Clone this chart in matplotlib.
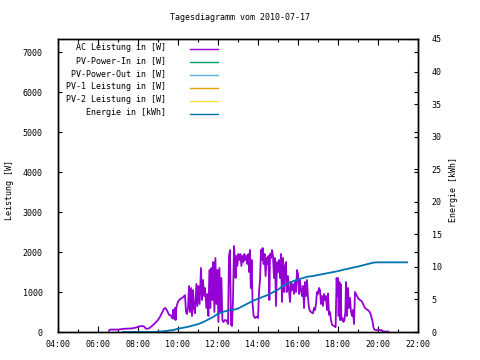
import matplotlib
matplotlib.use("Agg")
import matplotlib.pyplot as plt
from matplotlib.lines import Line2D
from matplotlib.ticker import MultipleLocator, FixedLocator

# ---------------- data ----------------
title = "Tagesdiagramm vom 2010-07-17"
series_labels = ["AC Leistung in [W]", "PV-Power-In in [W]", "PV-Power-Out in [W]",
                 "PV-1 Leistung in [W]", "PV-2 Leistung in [W]", "Energie in [kWh]"]
series_colors = ["#9400d3", "#009e73", "#56b4e9", "#e69f00", "#f0e442", "#0072b2"]

x_tick_hours = [4, 6, 8, 10, 12, 14, 16, 18, 20, 22]
x_tick_labels = ["04:00", "06:00", "08:00", "10:00", "12:00", "14:00", "16:00", "18:00", "20:00", "22:00"]
y_ticks = [0, 1000, 2000, 3000, 4000, 5000, 6000, 7000]
y2_ticks = [0, 5, 10, 15, 20, 25, 30, 35, 40, 45]

ac_hours = [6.55, 6.6, 7.0, 7.3, 7.7, 7.9, 8.0, 8.15, 8.3, 8.4, 8.55, 8.7, 8.85, 9.0, 9.1, 9.2, 9.3,
            9.37, 9.45, 9.55, 9.65, 9.72, 9.77, 9.8, 9.85, 9.88, 9.92, 10.0, 10.1, 10.2, 10.27, 10.35,
            10.4, 10.45, 10.5, 10.55, 10.6, 10.65, 10.7, 10.75, 10.8, 10.85, 10.92, 10.97, 11.02, 11.08,
            11.15, 11.2, 11.25, 11.3, 11.35, 11.42, 11.47, 11.52, 11.57, 11.62, 11.67, 11.72, 11.77,
            11.82, 11.87, 11.92, 11.97, 12.02, 12.07, 12.12, 12.17, 12.22, 12.27, 12.35, 12.45, 12.5,
            12.55, 12.6, 12.65, 12.7, 12.75, 12.8, 12.83, 12.88, 12.92, 12.97, 13.02, 13.08, 13.12,
            13.17, 13.22, 13.27, 13.32, 13.37, 13.42, 13.47, 13.52, 13.56, 13.6, 13.64, 13.68, 13.73,
            13.78, 13.85, 13.92, 14.0, 14.05, 14.1, 14.15, 14.2, 14.23, 14.28, 14.33, 14.38, 14.43,
            14.48, 14.52, 14.57, 14.6, 14.65, 14.7, 14.75, 14.8, 14.85, 14.9, 14.95, 15.0, 15.05, 15.1,
            15.15, 15.2, 15.25, 15.3, 15.35, 15.4, 15.43, 15.5, 15.55, 15.6, 15.65, 15.7, 15.75, 15.8,
            15.85, 15.9, 15.95, 16.0, 16.05, 16.1, 16.15, 16.2, 16.25, 16.3, 16.35, 16.4, 16.45, 16.5,
            16.55, 16.6, 16.7, 16.75, 16.8, 16.85, 16.9, 16.95, 17.0, 17.05, 17.1, 17.15, 17.2, 17.25,
            17.3, 17.35, 17.4, 17.45, 17.5, 17.55, 17.6, 17.65, 17.7, 17.8, 17.88, 17.93, 17.97, 18.0,
            18.03, 18.07, 18.1, 18.13, 18.17, 18.22, 18.27, 18.32, 18.37, 18.4, 18.45, 18.5, 18.55,
            18.6, 18.65, 18.7, 18.75, 18.8, 18.85, 18.9, 18.95, 19.0, 19.05, 19.1, 19.2, 19.27, 19.35,
            19.45, 19.52, 19.58, 19.63, 19.68, 19.72, 19.77, 19.82, 19.9, 20.1, 20.2, 20.27, 20.52]
ac_watts = [30, 60, 60, 80, 90, 110, 130, 150, 140, 80, 90, 150, 220, 300, 380, 480, 580,
            600, 540, 430, 410, 340, 560, 330, 600, 300, 620, 760, 820, 850, 880, 920,
            500, 450, 600, 1150, 500, 1100, 400, 1050, 600, 470, 1200, 650, 1150, 700,
            1600, 800, 1300, 900, 1100, 600, 950, 400, 1550, 600, 1600, 800, 1750,
            500, 1850, 700, 1550, 250, 1600, 500, 1350, 300, 250, 300, 280, 200,
            1900, 2050, 180, 150, 800, 2150, 1950, 1350, 1900, 1650, 1950, 1800, 1950,
            1650, 1900, 1750, 1950, 1800, 1900, 1700, 1950, 1500, 2050, 1100, 1800, 700,
            400, 350, 380, 350, 1000, 1300, 2050, 1800, 2100, 1700, 1950, 1400, 1850,
            1700, 1900, 800, 1950, 1850, 2050, 1900, 1350, 1850, 650, 1750, 1500, 1800, 1350,
            1950, 750, 1850, 1000, 1650, 1750, 1000, 1400, 1050, 750, 1250, 1050, 1200, 950,
            1250, 1000, 1550, 1450, 950, 1300, 1050, 900, 1150, 600, 1250, 900, 1300, 850,
            600, 520, 480, 470, 600, 550, 700, 1000, 950, 1100, 1050, 700, 900, 650,
            950, 800, 900, 550, 960, 430, 500, 300, 180, 150, 120, 1350, 900, 1350,
            400, 1250, 300, 1200, 300, 350, 250, 300, 500, 1250, 400, 1100, 600,
            850, 500, 400, 550, 200, 1000, 950, 900, 850, 820, 800, 760, 680, 600,
            560, 540, 500, 450, 350, 280, 120, 60, 50, 50, 40, 10, 10]

en_hours = [7.25, 8.75, 9.0, 9.25, 9.5, 9.75, 10.0, 10.25, 10.5, 10.75, 11.0, 11.25, 11.5, 11.75,
            12.0, 12.25, 12.5, 12.75, 13.0, 13.25, 13.5, 13.75, 14.0, 14.25, 14.5, 14.75, 15.0,
            15.25, 15.5, 15.75, 16.0, 16.25, 16.5, 16.75, 17.0, 17.25, 17.5, 17.75, 18.0, 18.25,
            18.5, 18.75, 19.0, 19.25, 19.5, 19.75, 20.0, 21.45]
en_kwh = [0.0, 0.0, 0.05, 0.1, 0.2, 0.3, 0.5, 0.65, 0.8, 1.0, 1.2, 1.5, 1.9, 2.3,
          2.8, 3.1, 3.3, 3.4, 3.6, 4.0, 4.4, 4.8, 5.1, 5.4, 5.7, 6.1, 6.5,
          7.1, 7.5, 7.8, 8.05, 8.3, 8.5, 8.6, 8.75, 8.9, 9.05, 9.2, 9.35, 9.55,
          9.7, 9.9, 10.05, 10.25, 10.45, 10.65, 10.7, 10.7]

# ---------------- figure ----------------
FONT = "DejaVu Sans Mono"
FS = 6
plt.rcParams["font.family"] = [FONT]

fig = plt.figure(figsize=(4.8, 3.6), dpi=100)
ax = fig.add_axes([58 / 480, 28 / 360, 360 / 480, 293 / 360])
ax2 = ax.twinx()

ax.plot(ac_hours, ac_watts, color=series_colors[0], lw=1.3)
for c in series_colors[1:5]:
    ax.plot([], [], color=c, lw=1.3)
ax2.plot(en_hours, en_kwh, color=series_colors[5], lw=1.3)

ax.set_xlim(4, 22)
ax.set_ylim(0, 7325)
ax2.set_ylim(0, 45)

ax.xaxis.set_major_locator(FixedLocator(x_tick_hours))
ax.set_xticklabels(x_tick_labels)
ax.xaxis.set_minor_locator(MultipleLocator(1))
ax.yaxis.set_major_locator(FixedLocator(y_ticks))
ax.set_yticklabels([str(v) for v in y_ticks])
ax2.yaxis.set_major_locator(FixedLocator(y2_ticks))
ax2.set_yticklabels([str(v) for v in y2_ticks])

ax.tick_params(axis="x", which="major", direction="in", length=4, width=0.8,
               top=True, labelsize=FS, pad=6)
ax.tick_params(axis="x", which="minor", direction="in", length=2, width=0.8, top=True)
ax.tick_params(axis="y", which="major", direction="in", length=3, width=0.8,
               right=True, labelsize=FS, pad=11)
ax2.tick_params(axis="y", which="major", direction="in", length=3, width=0.8,
                labelsize=FS, pad=10)

for a in (ax, ax2):
    for s in a.spines.values():
        s.set_linewidth(1.0)
        s.set_color("black")

fig.text(0.5, 1 - 18 / 360, title, ha="center", va="center", fontsize=FS)
fig.text(10 / 480, 1 - 190 / 360, "Leistung [W]", rotation=90, ha="center", va="center", fontsize=FS)
fig.text(453 / 480, 1 - 190 / 360, "Energie [kWh]", rotation=90, ha="center", va="center", fontsize=FS)

# legend (gnuplot style: text right-aligned, sample on the right)
row_y = [49, 62, 75, 88, 101, 114]
for lab, col, yy in zip(series_labels, series_colors, row_y):
    fig.text(166 / 480, 1 - (yy - 1.5) / 360, lab, ha="right", va="center", fontsize=FS)
    fig.add_artist(Line2D([190 / 480, 218 / 480], [1 - yy / 360, 1 - yy / 360],
                          color=col, lw=1.0, transform=fig.transFigure))

fig.savefig("out.png", dpi=100)
